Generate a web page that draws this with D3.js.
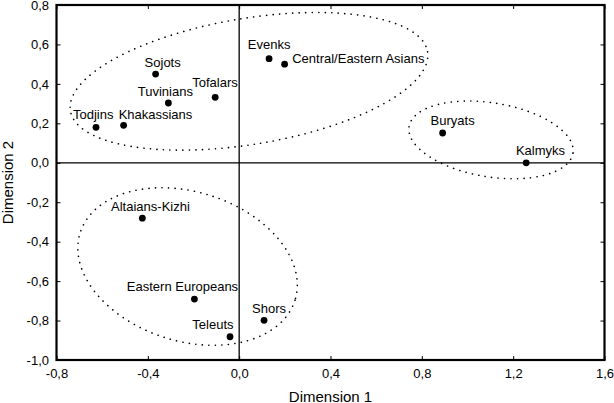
<!DOCTYPE html>
<html>
<head>
<meta charset="utf-8">
<script src="https://cdn.jsdelivr.net/npm/d3@7"></script>
<style>
  body { margin: 0; background: #fff; }
  text { font-family: "Liberation Sans", Arial, sans-serif; fill: #000; }
</style>
</head>
<body>
<div id="chart"></div>
<script>
// group names and MDS coordinates
const names = ['Todjins', 'Khakassians', 'Sojots', 'Tuvinians', 'Tofalars',
  'Evenks', 'Central/Eastern Asians', 'Buryats', 'Kalmyks',
  'Altaians-Kizhi', 'Eastern Europeans', 'Teleuts', 'Shors'];
const dim1 = [-0.627, -0.506, -0.366, -0.310, -0.105,
  0.131, 0.199, 0.891, 1.257,
  -0.424, -0.196, -0.040, 0.109];
const dim2 = [0.18, 0.19, 0.45, 0.303, 0.332,
  0.528, 0.50, 0.151, 0.0,
  -0.281, -0.691, -0.882, -0.799];

const xTicks = [-0.8, -0.4, 0.0, 0.4, 0.8, 1.2, 1.6];
const yTicks = [-1.0, -0.8, -0.6, -0.4, -0.2, 0.0, 0.2, 0.4, 0.6, 0.8];

// cluster outlines: centre in data units
const clusterX = [0.043, 1.103, -0.226];
const clusterY = [0.413, 0.116, -0.526];

// label placement (px from the dot to text start / baseline)
const labelOffset = {
  'Todjins': [-23, -8],
  'Khakassians': [-5, -6],
  'Sojots': [-11, -7.5],
  'Tuvinians': [-30.6, -7],
  'Tofalars': [-23, -10],
  'Evenks': [-21.3, -10],
  'Central/Eastern Asians': [7.6, -1],
  'Buryats': [-12, -7.5],
  'Kalmyks': [-10.3, -7.5],
  'Altaians-Kizhi': [-31.3, -7],
  'Eastern Europeans': [-67.6, -8],
  'Teleuts': [-37.7, -7.7],
  'Shors': [-12, -7.3]
};
// ellipse shape in px: semi-axes and screen rotation
const clusterShape = [[181, 63, -9.4], [83, 37, 9.2], [112.6, 74.6, 17.4]];

const W = 614, H = 403;
const m = {left: 56.5, right: 604.5, top: 5, bottom: 360};

const svg = d3.select('#chart').append('svg')
    .attr('width', W).attr('height', H);

const x = d3.scaleLinear().domain([-0.8, 1.6]).range([m.left, m.right]);
const y = d3.scaleLinear().domain([-1.0, 0.8]).range([m.bottom, m.top]);
const fmt = (d) => d3.format('.1f')(d).replace('.', ',').replace('−', '-');

// zero lines
svg.append('line')
    .attr('x1', x(0)).attr('x2', x(0)).attr('y1', m.top).attr('y2', m.bottom)
    .attr('stroke', '#000').attr('stroke-width', 1.3);
svg.append('line')
    .attr('x1', m.left).attr('x2', m.right).attr('y1', y(0)).attr('y2', y(0))
    .attr('stroke', '#000').attr('stroke-width', 1.3);

// axes, ticks pointing inwards
const axB = svg.append('g').attr('transform', 'translate(0,' + m.bottom + ')')
    .call(d3.axisBottom(x).tickValues(xTicks).tickFormat(fmt)
        .tickSizeInner(-4).tickSizeOuter(0).tickPadding(8.5));
const axL = svg.append('g').attr('transform', 'translate(' + m.left + ',0)')
    .call(d3.axisLeft(y).tickValues(yTicks).tickFormat(fmt)
        .tickSizeInner(-4).tickSizeOuter(0).tickPadding(7.5));
const axT = svg.append('g').attr('transform', 'translate(0,' + m.top + ')')
    .call(d3.axisTop(x).tickValues(xTicks).tickFormat('')
        .tickSizeInner(-4).tickSizeOuter(0));
const axR = svg.append('g').attr('transform', 'translate(' + m.right + ',0)')
    .call(d3.axisRight(y).tickValues(yTicks).tickFormat('')
        .tickSizeInner(-4).tickSizeOuter(0));

[axB, axL, axT, axR].forEach((a) => {
  a.select('.domain').remove();
  a.selectAll('text').attr('font-size', 13)
      .attr('font-family', '"Liberation Sans", Arial, sans-serif');
});

// frame
svg.append('rect')
    .attr('x', m.left).attr('y', m.top)
    .attr('width', m.right - m.left).attr('height', m.bottom - m.top)
    .attr('fill', 'none').attr('stroke', '#000').attr('stroke-width', 2.2);

// dotted cluster ellipses
svg.append('g').selectAll('ellipse')
    .data(clusterX.map((cx, i) => ({cx: cx, cy: clusterY[i], s: clusterShape[i]})))
    .enter()
    .append('ellipse')
    .attr('transform', (d) => 'translate(' + x(d.cx) + ',' + y(d.cy) + ') rotate(' + d.s[2] + ')')
    .attr('rx', (d) => d.s[0])
    .attr('ry', (d) => d.s[1])
    .attr('fill', 'none')
    .attr('stroke', '#000')
    .attr('stroke-width', 1.6)
    .attr('stroke-linecap', 'round')
    .attr('stroke-dasharray', '0.1 6.4');

const points = names.map((n, i) => ({name: n, x: dim1[i], y: dim2[i]}));

svg.append('g').selectAll('circle')
    .data(points).enter()
    .append('circle')
    .attr('cx', (d) => x(d.x))
    .attr('cy', (d) => y(d.y))
    .attr('r', 3.4)
    .attr('fill', '#000');

svg.append('g').selectAll('text')
    .data(points).enter()
    .append('text')
    .attr('x', (d) => x(d.x) + labelOffset[d.name][0])
    .attr('y', (d) => y(d.y) + labelOffset[d.name][1])
    .attr('font-size', 13)
    .text((d) => d.name);

// axis titles
svg.append('text')
    .attr('x', (m.left + m.right) / 2).attr('y', 402)
    .attr('text-anchor', 'middle').attr('font-size', 15)
    .text('Dimension 1');
svg.append('text')
    .attr('transform', 'translate(13,' + ((m.top + m.bottom) / 2) + ') rotate(-90)')
    .attr('text-anchor', 'middle').attr('font-size', 15)
    .text('Dimension 2');
</script>
</body>
</html>
